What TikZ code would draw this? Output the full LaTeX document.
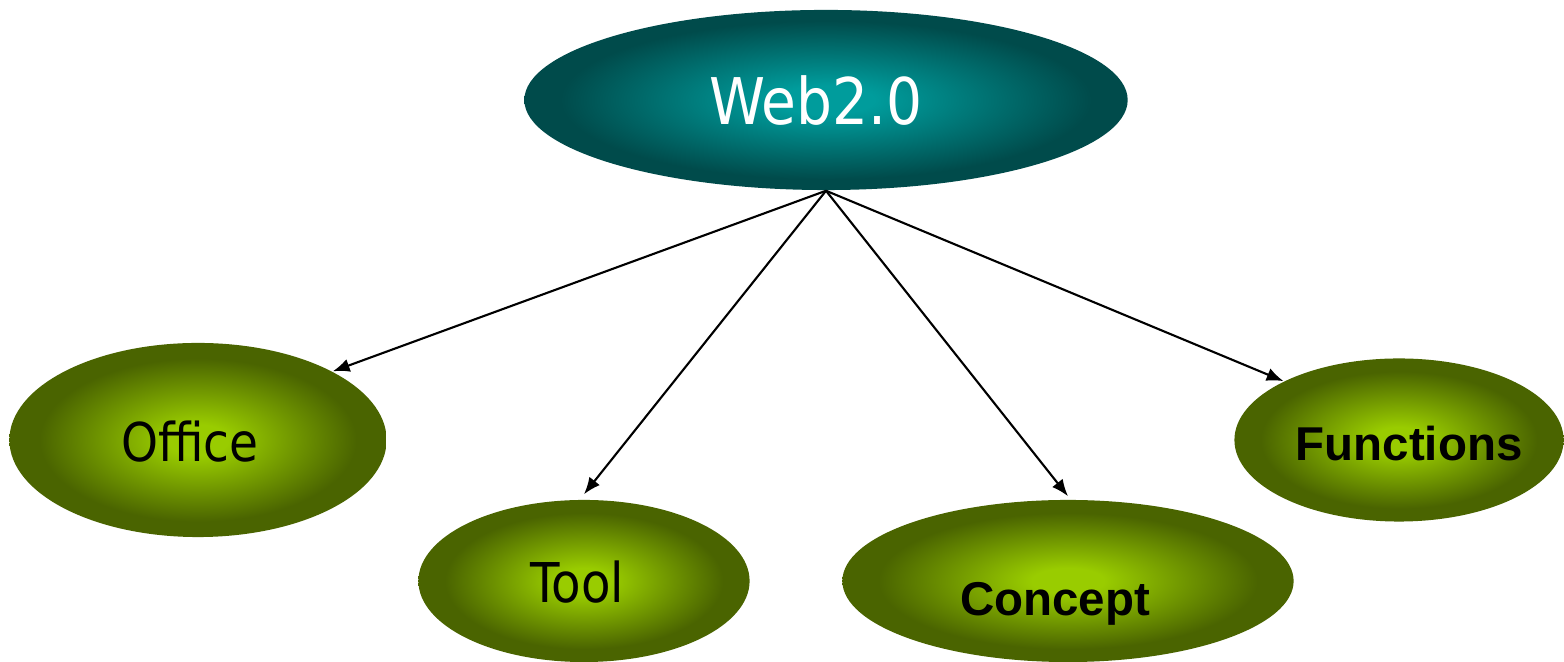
\documentclass[tikz,border=0pt]{standalone}
\usepackage{fontspec}
\usetikzlibrary{shapes.geometric,arrows.meta}
\newfontfamily\tahomalike[FakeStretch=0.88]{DejaVu Sans}
\newfontfamily\arialike{Liberation Sans}
\definecolor{tealin}{HTML}{009C9C}
\definecolor{tealout}{HTML}{004B4B}
\definecolor{greenin}{HTML}{99CC00}
\definecolor{greenout}{HTML}{4A6400}
\pgfdeclareradialshading{tealball}{\pgfpoint{0bp}{0bp}}{color(0bp)=(tealin); color(4bp)=(tealin); color(22bp)=(tealout); color(25bp)=(tealout); color(50bp)=(tealout)}
\pgfdeclareradialshading{greenball}{\pgfpoint{0bp}{0bp}}{color(0bp)=(greenin); color(4bp)=(greenin); color(21bp)=(greenout); color(25bp)=(greenout); color(50bp)=(greenout)}
\tikzset{
  blob/.style={ellipse, inner sep=0pt, draw=none},
  topblob/.style={blob, shading=tealball},
  subblob/.style={blob, shading=greenball},
  lbl/.style={anchor=base, inner sep=0pt},
  conn/.style={line width=0.6pt, -{Latex[length=4.8pt,width=3.8pt]}}
}
\begin{document}
\begin{tikzpicture}[x=0.01cm, y=-0.01cm]
\useasboundingbox (0,0) rectangle (1564,662);
% ellipses
\node[topblob, minimum width=6.03cm, minimum height=1.80cm] (web) at (826,100) {};
\node[subblob, minimum width=3.77cm, minimum height=1.94cm] (office) at (198,440) {};
\node[subblob, minimum width=3.31cm, minimum height=1.62cm] (tool) at (584,581) {};
\node[subblob, minimum width=4.51cm, minimum height=1.62cm] (concept) at (1068,581) {};
\node[subblob, minimum width=3.29cm, minimum height=1.63cm] (functions) at (1399,440) {};
% labels
\node[lbl, text=white, font=\tahomalike\fontsize{18.3}{21}\selectfont] (webtext) at (816,125) {Web2.0};
\node[lbl, font=\tahomalike\fontsize{15.2}{18}\selectfont] (officetext) at (190,462) {Office};
\node[lbl, font=\tahomalike\fontsize{15.6}{18}\selectfont] (tooltext) at (577,603) {Tool};
\node[lbl, font=\arialike\bfseries\fontsize{13.5}{16}\selectfont] (concepttext) at (1055,616) {Concept};
\node[lbl, font=\arialike\bfseries\fontsize{13.5}{16}\selectfont] (functionstext) at (1409,461) {Functions};
% connectors
\draw[conn] (web.south) -- (office.27.7);
\draw[conn] (web.south) -- ([yshift=0.05cm]tool.north);
\draw[conn] (web.south) -- ([yshift=0.03cm]concept.north);
\draw[conn] (web.south) -- (functions.153.2);
\end{tikzpicture}
\end{document}
